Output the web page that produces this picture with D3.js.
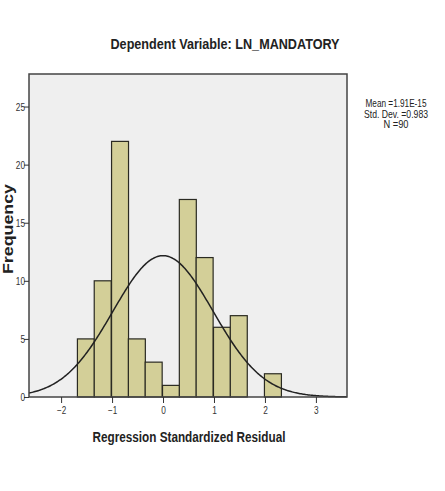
<!DOCTYPE html>
<html>
<head>
<meta charset="utf-8">
<script src="https://cdn.jsdelivr.net/npm/d3@7"></script>
<style>
  body { margin: 0; background: #fff; }
  text { font-family: "Liberation Sans Narrow", "Arial Narrow", "Liberation Sans", Arial, sans-serif; }
</style>
</head>
<body>
<div id="chart"></div>
<script>
// histogram of regression standardized residuals
const binStarts = [-1.68, -1.35, -1.01, -0.68, -0.35, -0.01, 0.32, 0.65, 0.99, 1.32, 1.65, 1.99];
const binWidth = 0.333;
const counts = [5, 10, 22, 5, 3, 1, 17, 12, 6, 7, 0, 2];
const xTicks = [-2, -1, 0, 1, 2, 3];
const yTicks = [0, 5, 10, 15, 20, 25];
const mean = 0, sd = 0.983, n = 90;
const statsLines = ['Mean =1.91E-15', 'Std. Dev. =0.983', 'N =90'];
const statsWidths = [61, 64, 25];

const W = 445, H = 491;
const margin = { left: 29, right: 98, top: 74, bottom: 94 };

const svg = d3.select('#chart').append('svg')
  .attr('width', W)
  .attr('height', H);

const x = d3.scaleLinear().domain([-2.63, 3.61]).range([margin.left, W - margin.right]);
const y = d3.scaleLinear().domain([0, 27.8]).range([H - margin.bottom, margin.top]);

// plot background
svg.append('rect')
  .attr('x', margin.left)
  .attr('y', margin.top)
  .attr('width', W - margin.right - margin.left)
  .attr('height', H - margin.bottom - margin.top)
  .attr('fill', '#efefef');

const bars = binStarts.map((s, i) => ({ x0: s, x1: s + binWidth, c: counts[i] }));

svg.selectAll('.bar')
  .data(bars.filter(d => d.c > 0))
  .enter().append('rect')
  .attr('class', 'bar')
  .attr('x', d => x(d.x0))
  .attr('y', d => y(d.c))
  .attr('width', d => x(d.x1) - x(d.x0))
  .attr('height', d => y(0) - y(d.c))
  .attr('fill', '#d3cf98')
  .attr('stroke', '#2a2a22')
  .attr('stroke-width', 1.2);

// normal curve
const pts = d3.range(-2.63, 3.611, 0.02).map(v => [v, n * binWidth * Math.exp(-0.5 * ((v - mean) / sd) ** 2) / (sd * Math.sqrt(2 * Math.PI))]);
svg.append('path')
  .datum(pts)
  .attr('fill', 'none')
  .attr('stroke', '#222')
  .attr('stroke-width', 1.5)
  .attr('d', d3.line().x(d => x(d[0])).y(d => y(d[1])));

// frame
svg.append('rect')
  .attr('x', margin.left)
  .attr('y', margin.top)
  .attr('width', W - margin.right - margin.left)
  .attr('height', H - margin.bottom - margin.top)
  .attr('fill', 'none')
  .attr('stroke', '#444')
  .attr('stroke-width', 1.5);

// axes
const xAxis = svg.append('g')
  .attr('transform', `translate(0,${H - margin.bottom})`)
  .call(d3.axisBottom(x).tickValues(xTicks).tickSize(6).tickSizeOuter(0).tickFormat(d3.format('d')));
const yAxis = svg.append('g')
  .attr('transform', `translate(${margin.left},0)`)
  .call(d3.axisLeft(y).tickValues(yTicks).tickSize(5).tickSizeOuter(0).tickFormat(d3.format('d')));

[xAxis, yAxis].forEach(g => {
  g.select('.domain').remove();
  g.selectAll('line').attr('stroke', '#333');
  g.selectAll('text').attr('fill', '#333').style('font-size', '10px');
});
yAxis.selectAll('text').attr('x', -4).attr('dy', '0.35em')
  .attr('textLength', d => String(d).length * 4.6).attr('lengthAdjust', 'spacingAndGlyphs');
xAxis.selectAll('text').attr('y', 10)
  .attr('textLength', d => String(d).length * 4.6).attr('lengthAdjust', 'spacingAndGlyphs');

// titles
svg.append('text')
  .attr('x', 225).attr('y', 49)
  .attr('text-anchor', 'middle')
  .attr('textLength', 229).attr('lengthAdjust', 'spacingAndGlyphs')
  .style('font-size', '15px').style('font-weight', 'bold')
  .attr('fill', '#222')
  .text('Dependent Variable: LN_MANDATORY');

svg.append('text')
  .attr('x', 189).attr('y', 442)
  .attr('text-anchor', 'middle')
  .attr('textLength', 193).attr('lengthAdjust', 'spacingAndGlyphs')
  .style('font-size', '14px').style('font-weight', 'bold')
  .attr('fill', '#222')
  .text('Regression Standardized Residual');

svg.append('text')
  .attr('transform', 'translate(12.5,229) rotate(-90)')
  .attr('text-anchor', 'middle')
  .attr('textLength', 90).attr('lengthAdjust', 'spacingAndGlyphs')
  .style('font-family', '"Liberation Sans", Arial, sans-serif')
  .style('font-size', '14px').style('font-weight', 'bold')
  .attr('fill', '#222')
  .text('Frequency');

svg.selectAll('.stat')
  .data(statsLines)
  .enter().append('text')
  .attr('class', 'stat')
  .attr('x', 396)
  .attr('y', (d, i) => 107 + i * 10.5)
  .attr('text-anchor', 'middle')
  .attr('textLength', (d, i) => statsWidths[i]).attr('lengthAdjust', 'spacingAndGlyphs')
  .style('font-size', '10.5px')
  .attr('fill', '#222')
  .text(d => d);
</script>
</body>
</html>
